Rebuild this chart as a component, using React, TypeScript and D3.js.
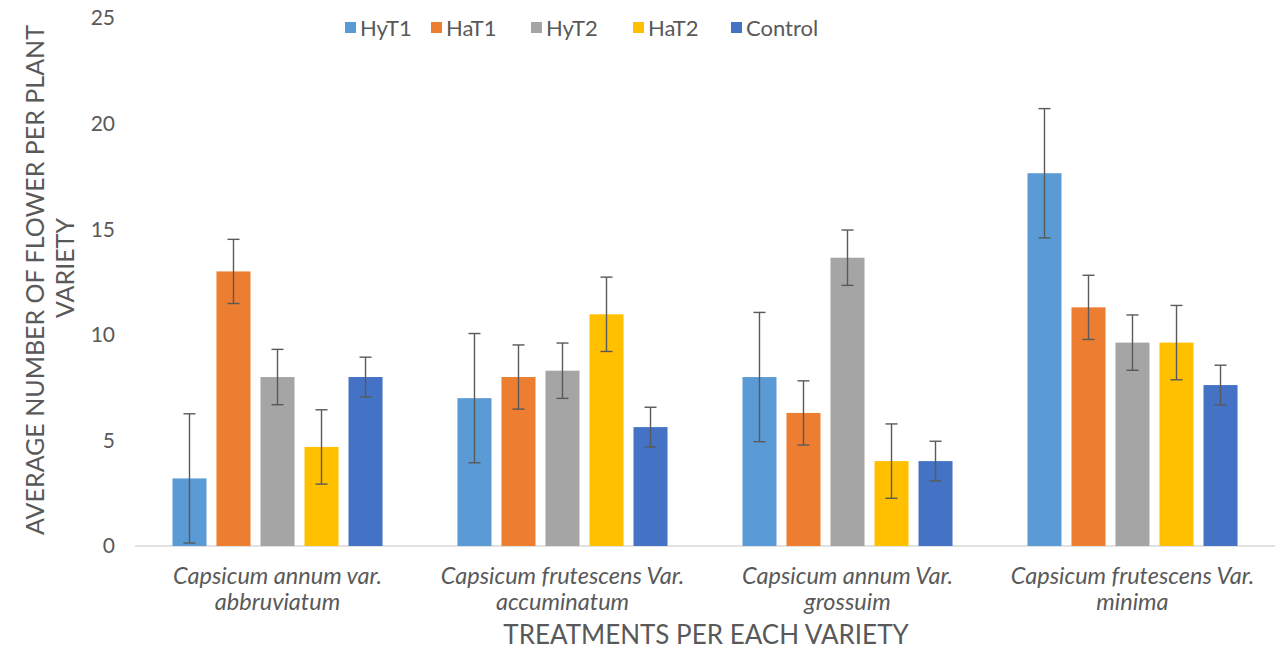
import React from "react";
import * as d3 from "d3";

const categories = [
  "Capsicum annum var.|abbruviatum",
  "Capsicum frutescens Var.|accuminatum",
  "Capsicum annum Var.|grossuim",
  "Capsicum frutescens Var.|minima",
];
const seriesNames = ["HyT1", "HaT1", "HyT2", "HaT2", "Control"];
const seriesColors = ["#5B9BD5", "#ED7D31", "#A5A5A5", "#FFC000", "#4472C4"];

const HyT1 = [3.2, 7.0, 8.0, 17.65];
const HaT1 = [13.0, 8.0, 6.3, 11.3];
const HyT2 = [8.0, 8.3, 13.65, 9.63];
const HaT2 = [4.69, 10.97, 4.02, 9.63];
const Control = [8.0, 5.63, 4.02, 7.62];

const HyT1Err = [3.06, 3.06, 3.06, 3.06];
const HaT1Err = [1.52, 1.52, 1.52, 1.52];
const HyT2Err = [1.31, 1.31, 1.31, 1.31];
const HaT2Err = [1.76, 1.76, 1.76, 1.76];
const ControlErr = [0.94, 0.94, 0.94, 0.94];

const yTicks = [0, 5, 10, 15, 20, 25];

const seriesValues = [HyT1, HaT1, HyT2, HaT2, Control];
const seriesErrors = [HyT1Err, HaT1Err, HyT2Err, HaT2Err, ControlErr];

const FONT = "Lato, 'Open Sans', sans-serif";
const TXT = "#595959";

export default function App() {
  const W = 1280;
  const H = 652;
  const x0 = d3
    .scaleBand<string>()
    .domain(categories)
    .range([135, 1275])
    .paddingInner(0.263)
    .paddingOuter(0.1315);
  const x1 = d3
    .scaleBand<string>()
    .domain(seriesNames)
    .range([0, x0.bandwidth()])
    .paddingInner(0.227)
    .paddingOuter(0);
  const y = d3.scaleLinear().domain([0, 25]).range([546, 18]);

  const legendX = [345, 431, 531, 633, 731];

  return (
    <svg
      width={W}
      height={H}
      style={{ position: "absolute", left: 0, top: 0, background: "#fff" }}
    >
      <rect x={0} y={0} width={W} height={H} fill="#fff" />
      {/* y tick labels */}
      {yTicks.map((t) => (
        <text
          key={t}
          x={115}
          y={y(t)}
          dy="0.35em"
          textAnchor="end"
          fontFamily={FONT}
          fontSize={21}
          fill={TXT}
        >
          {t}
        </text>
      ))}
      {/* axis line */}
      <line x1={135} x2={1275} y1={y(0)} y2={y(0)} stroke="#D9D9D9" strokeWidth={1.3} />
      {/* bars */}
      {categories.map((c, ci) => (
        <g key={c} transform={`translate(${x0(c)},0)`}>
          {seriesNames.map((s, si) => {
            const v = seriesValues[si][ci];
            const e = seriesErrors[si][ci];
            const bx = x1(s)!;
            const cx = bx + x1.bandwidth() / 2;
            const hi = y(v + e);
            const lo = y(Math.max(0, v - e));
            return (
              <g key={s}>
                <rect
                  x={bx}
                  y={y(v)}
                  width={x1.bandwidth()}
                  height={y(0) - y(v)}
                  fill={seriesColors[si]}
                />
                <line x1={cx} x2={cx} y1={hi} y2={lo} stroke="#595959" strokeWidth={1.4} />
                <line x1={cx - 6} x2={cx + 6} y1={hi} y2={hi} stroke="#595959" strokeWidth={1.4} />
                <line x1={cx - 6} x2={cx + 6} y1={lo} y2={lo} stroke="#595959" strokeWidth={1.4} />
              </g>
            );
          })}
        </g>
      ))}
      {/* category labels */}
      {categories.map((c) => {
        const cx = x0(c)! + x0.bandwidth() / 2;
        const lines = c.split("|");
        return (
          <text
            key={c}
            x={cx}
            textAnchor="middle"
            fontFamily={FONT}
            fontStyle="italic"
            fontSize={23.5}
            fill={TXT}
          >
            <tspan x={cx} y={584}>{lines[0]}</tspan>
            <tspan x={cx} y={610}>{lines[1]}</tspan>
          </text>
        );
      })}
      {/* x axis title */}
      <text
        x={706}
        y={644}
        textAnchor="middle"
        fontFamily={FONT}
        fontSize={26}
        fill={TXT}
      >
        TREATMENTS PER EACH VARIETY
      </text>
      {/* y axis title */}
      <text
        transform="translate(44,280) rotate(-90)"
        textAnchor="middle"
        fontFamily={FONT}
        fontSize={25}
        fill={TXT}
      >
        AVERAGE NUMBER OF FLOWER PER PLANT
      </text>
      <text
        transform="translate(74,268) rotate(-90)"
        textAnchor="middle"
        fontFamily={FONT}
        fontSize={25}
        fill={TXT}
      >
        VARIETY
      </text>
      {/* legend */}
      {seriesNames.map((s, i) => (
        <g key={s} transform={`translate(${legendX[i]},28)`}>
          <rect x={0} y={-6} width={11} height={11} fill={seriesColors[i]} />
          <text x={15} y={0} dy="0.35em" fontFamily={FONT} fontSize={22} fill={TXT}>
            {s}
          </text>
        </g>
      ))}
    </svg>
  );
}
